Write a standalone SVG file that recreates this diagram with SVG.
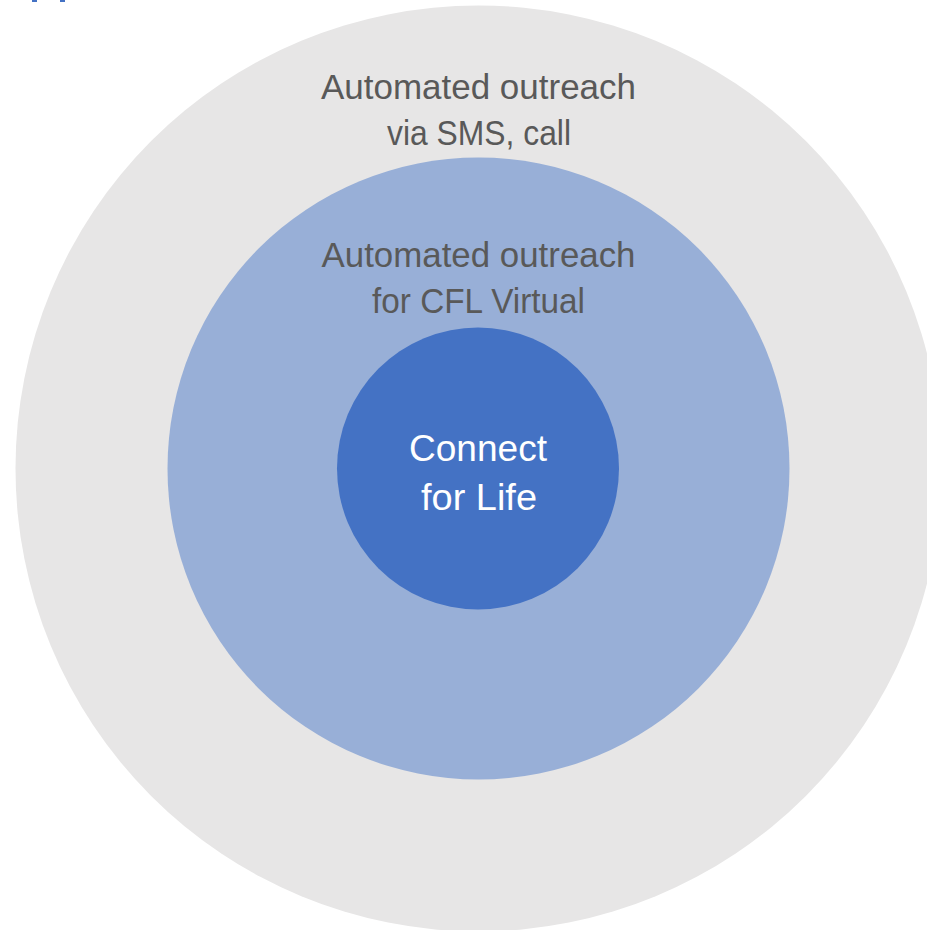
<svg xmlns="http://www.w3.org/2000/svg" width="927" height="930" viewBox="0 0 927 930">
<style>
.lbl{font-family:"Liberation Sans","Open Sans",Arial,sans-serif;text-anchor:middle}
.gray{fill:#595959;font-size:35px}
.white{fill:#FFFFFF;font-size:37px}
</style>
<rect width="927" height="930" fill="#FFFFFF"/>
<rect x="32" y="0" width="5" height="2" fill="#4472C4"/>
<rect x="60" y="0" width="5" height="2" fill="#4472C4"/>
<g id="outer">
<circle cx="478.5" cy="468.5" r="463" fill="#E7E6E6"/>
<text class="lbl gray" x="478.5" y="99" textLength="315" lengthAdjust="spacingAndGlyphs">Automated outreach</text>
<text class="lbl gray" x="479" y="145" textLength="184" lengthAdjust="spacingAndGlyphs">via SMS, call</text>
</g>
<g id="middle">
<circle cx="478.5" cy="468.5" r="311" fill="#98AFD7"/>
<text class="lbl gray" x="478.5" y="267" textLength="314" lengthAdjust="spacingAndGlyphs">Automated outreach</text>
<text class="lbl gray" x="478.5" y="313" textLength="213" lengthAdjust="spacingAndGlyphs">for CFL Virtual</text>
</g>
<g id="inner">
<circle cx="478" cy="468.5" r="141" fill="#4472C4"/>
<text class="lbl white" x="478" y="461" textLength="138" lengthAdjust="spacingAndGlyphs">Connect</text>
<text class="lbl white" x="479" y="510" textLength="116" lengthAdjust="spacingAndGlyphs">for Life</text>
</g>
<g id="connectors"></g>
</svg>
